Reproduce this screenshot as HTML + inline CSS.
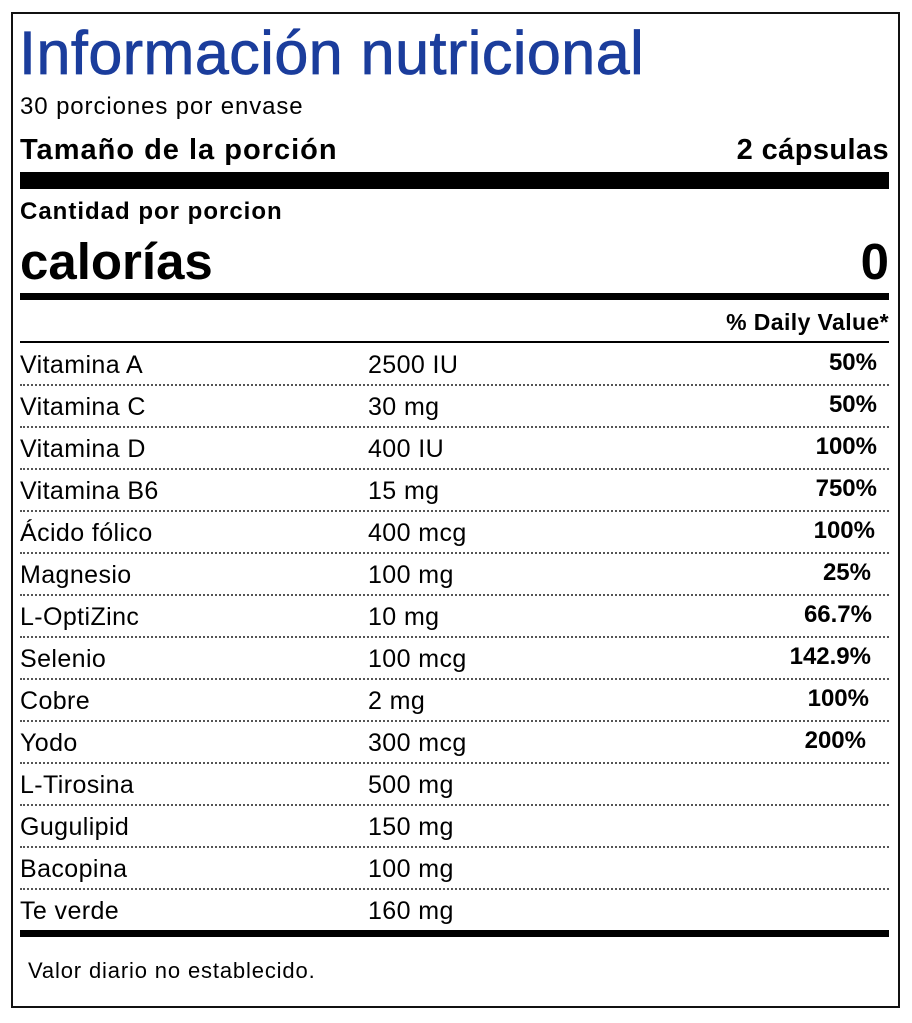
<!DOCTYPE html><html><head><meta charset="utf-8"><style>
body{margin:0;width:912px;height:1023px;background:#fff;font-family:"Liberation Sans",Arial,sans-serif;color:#000;position:relative;overflow:hidden}
.a{position:absolute;white-space:nowrap}
.box{position:absolute;left:11px;top:12px;width:885px;height:992px;border:2px solid #111}
.bar{position:absolute;left:20px;width:869px;background:#000}
.dot{position:absolute;left:20px;width:869px;border-top:2px dotted #555}
.r{font-size:25px;line-height:28px;letter-spacing:0.4px}
.p{font-weight:bold;text-align:right;font-size:24px;letter-spacing:0}
</style></head><body>
<div class="box"></div>
<div class="a" style="left:19px;top:18px;font-size:61px;line-height:70px;color:#1b3d9c;letter-spacing:0.5px;-webkit-text-stroke:0.8px #1b3d9c">Información nutricional</div>
<div class="a" style="left:20px;top:93px;font-size:24px;line-height:28px;letter-spacing:0.9px">30 porciones por envase</div>
<div class="a" style="left:20px;top:134px;font-size:29px;line-height:32px;font-weight:bold;letter-spacing:1px">Tamaño de la porción</div>
<div class="a" style="right:23px;top:134px;font-size:29px;line-height:32px;font-weight:bold;letter-spacing:0.4px">2 cápsulas</div>
<div class="bar" style="top:172px;height:17px"></div>
<div class="a" style="left:20px;top:198px;font-size:24px;line-height:28px;font-weight:bold;letter-spacing:1px">Cantidad por porcion</div>
<div class="a" style="left:20px;top:234px;font-size:51px;line-height:56px;font-weight:bold">calorías</div>
<div class="a" style="right:23px;top:234px;font-size:51px;line-height:56px;font-weight:bold">0</div>
<div class="bar" style="top:293px;height:7px"></div>
<div class="a" style="right:23px;top:309px;font-size:23px;line-height:26px;font-weight:bold;letter-spacing:0.4px">% Daily Value*</div>
<div class="bar" style="top:341px;height:2px"></div>
<div id="rows"></div>
<div class="bar" style="top:930px;height:7px"></div>
<div class="a" style="left:28px;top:958px;font-size:22px;line-height:26px;letter-spacing:0.85px">Valor diario no establecido.</div>
<script>
var d=[["Vitamina A","2500 IU","50%",877],["Vitamina C","30 mg","50%",877],["Vitamina D","400 IU","100%",877],["Vitamina B6","15 mg","750%",877],["Ácido fólico","400 mcg","100%",875],["Magnesio","100 mg","25%",871],["L-OptiZinc","10 mg","66.7%",872],["Selenio","100 mcg","142.9%",871],["Cobre","2 mg","100%",869],["Yodo","300 mcg","200%",866],["L-Tirosina","500 mg","",0],["Gugulipid","150 mg","",0],["Bacopina","100 mg","",0],["Te verde","160 mg","",0]];
var h="";d.forEach(function(r,i){var y=351+i*42;
h+='<div class="a r" style="left:20px;top:'+y+'px">'+r[0]+'</div><div class="a r" style="left:368px;top:'+y+'px">'+r[1]+'</div>';
if(r[2])h+='<div class="a r p" style="right:'+(912-r[3])+'px;top:'+(y-2)+'px">'+r[2]+'</div>';
if(i<13)h+='<div class="dot" style="top:'+(384+i*42)+'px"></div>';});
document.getElementById("rows").innerHTML=h;
</script>
</body></html>
